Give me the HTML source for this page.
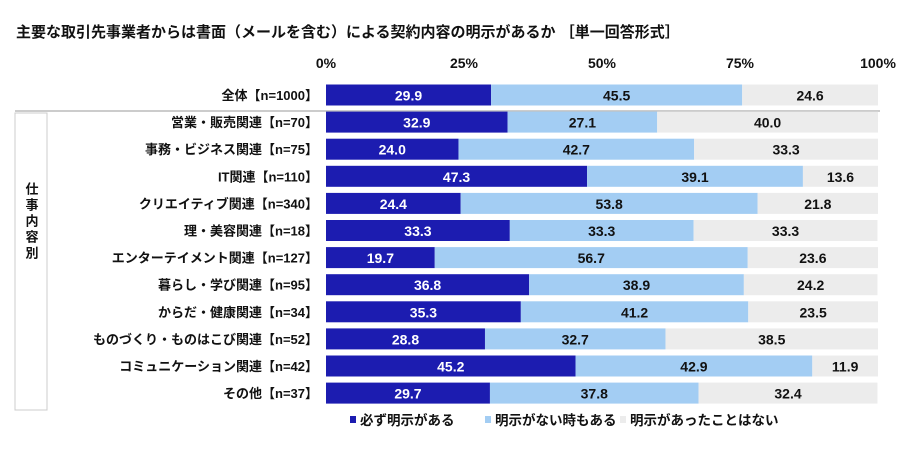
<!DOCTYPE html>
<html><head><meta charset="utf-8"><style>
body{margin:0;background:#fff;width:909px;height:453px;overflow:hidden;font-family:"Liberation Sans","Noto Sans CJK JP",sans-serif;}
svg text{font-family:"Liberation Sans","Noto Sans CJK JP",sans-serif;font-weight:bold;}
</style></head><body>
<svg id="chart" width="909" height="453" xmlns="http://www.w3.org/2000/svg">
<text x="16" y="37" font-size="15" fill="#111">主要な取引先事業者からは書面（メールを含む）による契約内容の明示があるか ［単一回答形式］</text>
<rect x="15" y="113" width="32" height="297" fill="#fff" stroke="#ccc"/>
<text x="31" y="222" font-size="13" fill="#111" text-anchor="middle" style="writing-mode:vertical-rl;letter-spacing:3px">仕事内容別</text>
<line x1="15" y1="111" x2="880" y2="111" stroke="#bbb" stroke-width="1.5"/>
<g id="ticks"></g><g id="bars"></g><g id="legend"></g>
</svg>
<script>
const categories=["全体【n=1000】","営業・販売関連【n=70】","事務・ビジネス関連【n=75】","IT関連【n=110】","クリエイティブ関連【n=340】","理・美容関連【n=18】","エンターテイメント関連【n=127】","暮らし・学び関連【n=95】","からだ・健康関連【n=34】","ものづくり・ものはこび関連【n=52】","コミュニケーション関連【n=42】","その他【n=37】"];
const always=[29.9,32.9,24.0,47.3,24.4,33.3,19.7,36.8,35.3,28.8,45.2,29.7];
const sometimes=[45.5,27.1,42.7,39.1,53.8,33.3,56.7,38.9,41.2,32.7,42.9,37.8];
const never=[24.6,40.0,33.3,13.6,21.8,33.3,23.6,24.2,23.5,38.5,11.9,32.4];
const tickValues=[0,25,50,75,100];
const seriesNames=["必ず明示がある","明示がない時もある","明示があったことはない"];
const colors=["#1c1cb0","#a3cdf3","#ececec"];
const textColors=["#fff","#111","#111"];
const NS="http://www.w3.org/2000/svg";
const X0=326,W=552;
const x=v=>X0+v/100*W;
const y=i=>95+i*27.1;
const BH=21;
function mk(tag,attrs,parent){const e=document.createElementNS(NS,tag);for(const k in attrs)e.setAttribute(k,attrs[k]);parent.appendChild(e);return e;}
const ticks=document.getElementById('ticks'),bars=document.getElementById('bars'),legend=document.getElementById('legend');
tickValues.forEach(t=>{const e=mk('text',{x:x(t),y:68,'font-size':14,'text-anchor':'middle',fill:'#111'},ticks);e.textContent=t+'%';

});
const series=[always,sometimes,never];
categories.forEach((c,i)=>{
 const l=mk('text',{x:318,y:y(i)+5,'font-size':13,'text-anchor':'end',fill:'#111'},bars);l.textContent=c;
 
 
 let acc=0;
 series.forEach((s,k)=>{
  const v=s[i];
  const r=mk('rect',{x:x(acc),y:y(i)-BH/2,width:x(acc+v)-x(acc),height:BH,fill:colors[k]},bars);
  
  
  const t=mk('text',{x:(x(acc)+x(acc+v))/2,y:y(i)+5.5,'font-size':14,'text-anchor':'middle',fill:textColors[k]},bars);
  t.textContent=v.toFixed(1);
  
  
  acc+=v;
 });
});
const lx=[350,485,620];
seriesNames.forEach((n,k)=>{
 const r=mk('rect',{x:lx[k],y:416,width:6,height:7,fill:colors[k]},legend);
 
 
 const t=mk('text',{x:lx[k]+10,y:425,'font-size':13.5,fill:'#111'},legend);t.textContent=n;
 
 
});
</script>
</body></html>
